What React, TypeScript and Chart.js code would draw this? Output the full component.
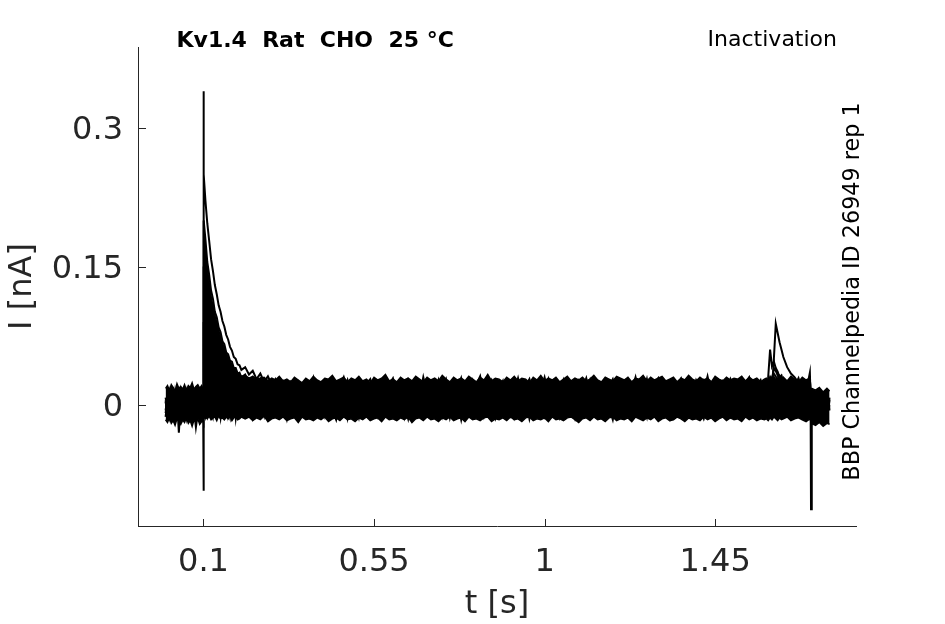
import React, { useEffect, useRef } from "react";
import { Chart, registerables } from "chart.js";

Chart.register(...registerables);

// Sample times of the sweep (ms)
const timeMs = [
  0, 5, 10, 15, 20, 25, 30, 35, 40, 45, 50, 55, 60, 65, 70, 75, 80, 85, 90, 95,
  99, 100, 101,
  105, 110, 115, 120, 125, 130, 135, 140, 145, 150, 155, 160, 165, 170, 175, 180, 185, 190, 195, 200,
  210, 220, 230, 240, 250, 260, 270, 280, 290, 300, 310, 320, 330, 340, 350, 360, 370, 380, 390, 400,
  410, 420, 430, 440, 450, 460, 470, 480, 490, 500, 510, 520, 530, 540, 550, 560, 570, 580, 590, 600,
  610, 620, 630, 640, 650, 660, 670, 680, 690, 700, 710, 720, 730, 740, 750, 760, 770, 780, 790, 800,
  810, 820, 830, 840, 850, 860, 870, 880, 890, 900, 910, 920, 930, 940, 950, 960, 970, 980, 990, 1000,
  1010, 1020, 1030, 1040, 1050, 1060, 1070, 1080, 1090, 1100, 1110, 1120, 1130, 1140, 1150, 1160, 1170, 1180, 1190, 1200,
  1210, 1220, 1230, 1240, 1250, 1260, 1270, 1280, 1290, 1300, 1310, 1320, 1330, 1340, 1350, 1360, 1370, 1380, 1390, 1400,
  1410, 1420, 1430, 1440, 1450, 1460, 1470, 1480, 1490, 1500, 1510, 1520, 1530, 1540, 1550, 1560, 1570, 1580,
  1585, 1590, 1595, 1600, 1605, 1610, 1615, 1620, 1625, 1630, 1640, 1650, 1660, 1670, 1680, 1690, 1700,
  1702, 1703, 1705, 1715, 1725, 1735, 1745, 1752,
];

// Upper and lower edge of the dense noise band of all sweeps (pA)
const bandUpper = [
  18, 21, 16, 22, 19, 15, 23, 18, 20, 17, 22, 16, 21, 19, 24, 17, 20, 22, 18, 21,
  17, 16, 190,
  170, 148, 132, 118, 107, 97, 89, 81, 74, 67, 62, 56, 52, 47, 44, 40, 38, 35, 33, 31,
  32, 29, 31, 28, 29, 30, 26, 29, 27, 31,
  26, 28, 25, 30, 27, 24, 29, 26, 31, 27,
  25, 29, 28, 32, 26, 28, 30, 25, 29, 27,
  31, 26, 28, 24, 30, 27, 29, 33, 26, 28,
  25, 30, 27, 29, 26, 31, 28, 25, 30, 27,
  29, 26, 32, 28, 25, 30, 27, 29, 26, 31,
  28, 25, 30, 27, 33, 26, 29, 28, 25, 30,
  27, 31, 26, 29, 28, 24, 30, 27, 32, 26,
  29, 27, 30, 25, 28, 31, 26, 29, 27, 30,
  26, 28, 32, 27, 25, 30, 28, 26, 31, 29,
  27, 30, 25, 29, 28, 32, 26, 30, 27, 29,
  31, 26, 28, 30, 25, 29, 27, 32, 28, 26,
  30, 27, 29, 25, 31, 28, 26, 30, 27, 29,
  28, 31, 26, 30, 27, 29, 25, 28,
  29, 26, 31, 27, 30, 25, 29, 32, 27, 30, 26, 31, 28, 25, 30, 27, 29,
  22, 16, 18, 16, 19, 14, 18, 15,
];

const bandLower = [
  -16, -19, -14, -20, -17, -22, -15, -18, -21, -16, -19, -14, -20, -17, -23, -16, -19, -15, -21, -18,
  -18, -20, -15,
  -13, -15, -12, -16, -14, -13, -17, -12, -15, -14, -16, -13, -15, -12, -17, -14, -13, -16, -15, -13,
  -15, -13, -17, -14, -16, -12, -18, -15, -14, -16,
  -13, -17, -15, -14, -19, -13, -16, -15, -17, -14,
  -16, -13, -18, -15, -14, -17, -13, -16, -15, -18,
  -14, -16, -13, -17, -15, -14, -18, -13, -16, -15,
  -17, -14, -16, -13, -19, -15, -14, -17, -13, -16,
  -15, -18, -14, -16, -13, -17, -15, -14, -18, -13,
  -16, -15, -17, -14, -13, -18, -15, -16, -14, -17,
  -13, -16, -15, -18, -14, -13, -17, -15, -16, -14,
  -18, -13, -16, -15, -17, -14, -13, -16, -19, -15,
  -14, -17, -13, -16, -15, -18, -14, -13, -17, -15,
  -16, -14, -18, -13, -15, -17, -14, -16, -13, -18,
  -15, -14, -17, -16, -13, -15, -18, -14, -16, -15,
  -17, -13, -16, -14, -18, -15, -13, -17, -14, -16,
  -15, -18, -13, -16, -14, -17, -15, -16,
  -15, -17, -14, -16, -13, -15, -17, -14, -16, -15, -13, -17, -15, -14, -16, -18, -15,
  -17, -19, -20, -22, -19, -23, -20, -21,
];

// Current traces (pA), one per prepulse voltage
const trace1 = [
  3, -8, 12, -4, 7, -13, 5, 10, -6, 2, -11, 8, -3, 13, -9, 4, -2, 11, -7, 6,
  2, 340, 250,
  222, 197, 178, 158, 145, 130, 120, 108, 101, 91, 85, 76, 71, 63, 59, 52, 50, 44, 43, 38,
  41, 33, 37, 28, 34, 25, 31, 22, 28, 19, 26, 18, 25, 17,
  25, 10, 22, 14, 29, 8, 20, 27, 12, 24,
  9, 21, 30, 15, 19, 7, 26, 13, 23, 28,
  11, 18, 25, 8, 22, 29, 14, 20, 10, 27,
  16, 24, 9, 30, 13, 21, 26, 12, 19, 28,
  8, 23, 17, 29, 11, 25, 14, 22, 31, 10,
  20, 27, 13, 18, 26, 9, 24, 15, 29, 12,
  21, 28, 10, 23, 16, 30, 13, 19, 25, 11,
  27, 14, 22, 8, 26, 18, 29, 12, 24, 17,
  10, 25, 20, 28, 13, 22, 9, 27, 16, 30,
  12, 19, 26, 11, 23, 29, 14, 21, 8, 25,
  18, 28, 13, 24, 10, 27, 20, 15, 31, 12,
  22, 26, 9, 19, 28, 14, 25, 11, 23, 30,
  16, 21, 27, 13,
  24, 15, 20, 26, 30, 27, 22, 28, 19, 25, 17, 27, 21, 29, 16, 24, 20,
  12, 5, 2, 9, -6, 8, -3, 6,
];

const trace2 = [
  -6, 9, -2, 14, -10, 4, -5, 11, 1, -12, 7, -4, 10, -8, 3, 12, -6, -1, 9, -3,
  -2, 150, 200,
  180, 155, 141, 124, 115, 101, 95, 84, 79, 69, 66, 57, 55, 48, 47, 40, 40, 34, 35, 30,
  33, 24, 30, 20, 28, 16, 26, 13, 25, 12, 23, 10, 22, 9,
  19, 6, 24, 11, 3, 21, 15, 26, 8, 18,
  23, 4, 16, 27, 10, 20, 2, 17, 25, 12,
  5, 22, 14, 28, 9, 19, 24, 7, 15, 26,
  11, 3, 21, 17, 25, 6, 14, 27, 10, 20,
  24, 8, 16, 2, 22, 13, 26, 5, 18, 12,
  27, 9, 20, 15, 4, 23, 11, 25, 7, 17,
  14, 26, 3, 21, 10, 18, 28, 6, 16, 22,
  8, 19, 25, 12, 2, 20, 15, 27, 9, 23,
  17, 5, 24, 11, 26, 14, 7, 21, 18, 3,
  22, 13, 28, 8, 16, 25, 10, 19, 4, 24,
  15, 27, 6, 20, 12, 23, 9, 26, 17, 2,
  21, 11, 25, 14, 7, 22, 18, 28, 5, 16,
  24, 10, 19, 13,
  18, 9, 22, 30, 34, 31, 26, 20, 27, 15, 24, 12, 22, 17, 26, 11, 19,
  8, -3, 4, -8, 7, -5, 10, -2,
];

const trace3 = [
  8, -4, -13, 6, 12, -7, 1, -10, 13, -2, 5, -14, 9, 0, -8, 7, 14, -5, 3, -11,
  4, 60, 150,
  135, 116, 105, 91, 85, 74, 70, 61, 58, 50, 49, 42, 41, 35, 35, 29, 30, 25, 26, 21,
  25, 11, 23, 9, 21, 6, 20, 4, 19, 3, 18, 2, 17, 1,
  14, -1, 18, 5, 20, -3, 10, 16, 1, 12,
  -2, 17, 7, 21, 3, 13, -4, 19, 9, 0,
  15, 6, 22, -1, 11, 18, 2, 14, -3, 20,
  8, 16, 4, 19, -2, 12, 21, 5, 10, -4,
  17, 3, 13, 20, 0, 9, 18, -1, 15, 6,
  11, 22, 2, 16, -3, 14, 7, 19, 1, 12,
  20, -2, 10, 17, 4, 21, 8, -4, 15, 3,
  13, 19, 0, 11, 22, 6, 16, -1, 9, 18,
  2, 14, 20, 5, -3, 12, 17, 1, 21, 7,
  -2, 15, 10, 19, 4, 13, -4, 18, 8, 22,
  3, 11, 16, 0, 20, 6, 14, -3, 17, 9,
  1, 21, 12, 5, 18, -2, 10, 15, 4, 19,
  7, 13, -1, 16,
  10, 3, 14, 28, 40, 37, 32, 27, 30, 21, 25, 16, 23, 12, 20, 14, 35,
  6, 1, -6, 5, -10, 3, -7, 8,
];

const trace4 = [
  -9, 5, 11, -3, -12, 8, -6, 13, 2, -8, 10, -1, -13, 6, 11, -5, -24, -9, 12, -2,
  -4, 30, 90,
  80, 68, 63, 52, 50, 42, 41, 34, 34, 27, 28, 22, 24, 18, 20, 15, 18, 12, 15, 10,
  15, 1, 14, -2, 13, -3, 12, -4, 11, -5, 10, -4, 9, -6,
  10, -6, 13, 0, 15, -4, 7, -8, 12, 3,
  -5, 14, 6, -7, 11, -1, 16, 2, -6, 9,
  13, -3, 8, 15, -8, 5, 12, -2, 10, -5,
  4, 14, -7, 11, 1, 16, -4, 8, -1, 13,
  -6, 10, 3, 15, -3, 7, 12, -8, 9, 2,
  14, -5, 11, 0, 16, -2, 6, 13, -7, 10,
  1, 15, -4, 8, 12, -6, 5, 14, -1, 9,
  -8, 11, 3, 16, -3, 7, 13, -5, 10, 2,
  15, -2, 9, -7, 12, 4, 14, -4, 6, 11,
  -1, 13, -6, 8, 16, 0, 10, -3, 12, 5,
  -7, 14, 2, 9, -4, 15, 6, -1, 11, -5,
  13, 3, 10, -6, 16, 1, 8, -2, 14, 4,
  -3, 12, 7, -5,
  8, 30, 60, 42, 47, 40, 36, 30, 32, 24, 26, 18, 21, 13, 19, 9, 15,
  2, -5, 3, -12, 6, -8, 4, -4,
];

const trace5 = [
  5, -11, 2, 9, -7, 13, -4, -15, 7, 0, -9, 12, -3, 6, -12, 10, -6, 3, -10, 8,
  1, -93, -5,
  -12, 4, -8, 7, -10, 2, -6, 9, -11, 3, -7, 10, -4, -13, 6, -2, 8, -9, 1, -5,
  7, -8, 11, -4, 2, -12, 9, -1, -10, 5,
  -6, 12, -3, 8, -13, 4, -7, 10, 0, -11,
  6, -5, 13, -9, 3, -2, 11, -14, 7, -6,
  9, -10, 1, 12, -4, 5, -12, 8, -1, 10,
  -8, 3, -13, 11, -5, 7, -3, 13, -9, 2,
  -11, 9, -2, 6, -14, 4, 10, -7, 1, -10,
  12, -4, 8, -12, 5, -1, 11, -9, 3, -6,
  10, -13, 2, 7, -5, 13, -8, 0, -11, 6,
  -3, 9, -10, 4, 12, -6, 1, -14, 8, -2,
  11, -7, 5, -12, 3, 10, -4, 7, -9, 13,
  -1, -11, 6, 9, -6, 2, -13, 12, -3, 8,
  -10, 4, 11, -5, 0, -12, 7, -8, 10, -2,
  5, -13, 9, -4, 13, -7, 3, -10, 6, 1,
  -9, 11, -3, 8, -11, 4, -6, 10,
  -3, 6, 4, 12, 50, 88, 78, 68, 60, 52, 41, 34, 30, 24, 27, 19, 22,
  5, -2, 6, -9, 4, -12, 9, -6,
];

const trace6 = [
  -13, 4, -6, 10, -1, -9, 7, -30, 3, 11, -5, -14, 8, -2, 12, -8, 5, -11, 0, 9,
  -3, -8, 3,
  5, -9, 10, -3, -12, 6, -7, 1, -13, 8, -4, 11, -10, 2, -6, 7, -14, 4, -1, -11,
  -9, 5, -14, 2, -6, 8, -12, -1, 6, -10,
  3, -15, 7, -4, -11, 9, -2, -13, 4, -8,
  1, -12, 10, -6, -16, 5, -3, 8, -11, 0,
  -14, 6, -7, 9, -2, -13, 3, -9, 7, -5,
  -12, 4, -1, -15, 8, -8, 2, -11, 10, -4,
  -7, 6, -13, 0, 9, -10, 3, -16, 5, -2,
  -9, 8, -5, -12, 4, -1, -14, 7, -6, 1,
  -11, 10, -3, -8, 5, -15, 2, -4, 9, -12,
  0, -7, 6, -13, 3, -10, 8, -2, -14, 4,
  -5, 11, -9, 1, -12, 7, -3, -16, 5, -1,
  -8, 9, -11, 2, -6, -13, 6, -4, 10, -10,
  3, -7, -15, 8, -2, 5, -12, 0, -9, 7,
  -4, -14, 4, -1, 9, -11, 2, -8, -13, 6,
  -3, 10, -10, 1, -6, 5, -12, 3,
  -7, 4, -2, 10, 18, 24, 16, 21, 12, 18, 8, 15, 5, 12, 2, 10, 4,
  -8, -113, -4, 7, -11, 2, -14, 5,
];

const traces = [trace1, trace2, trace3, trace4, trace5, trace6];

const xTicks = [0.1, 0.55, 1, 1.45];
const xTickLabels = ["0.1", "0.55", "1", "1.45"];
const yTicks = [0, 0.15, 0.3];
const yTickLabels = ["0", "0.15", "0.3"];

const xAxisTitle = "t [s]";
const yAxisTitle = "I [nA]";
const titleText = "Kv1.4  Rat  CHO  25 °C";
const protocolText = "Inactivation";
const sideText = "BBP Channelpedia ID 26949 rep 1";

const FONT = "DejaVu Sans";
const AXIS_COLOR = "#262626";

const annotations = {
  id: "annotations",
  afterDraw(chart: any) {
    const ctx = chart.ctx as CanvasRenderingContext2D;
    const xs = chart.scales.x;
    const ys = chart.scales.y;
    const area = chart.chartArea;
    ctx.save();
    // inward tick marks
    ctx.strokeStyle = AXIS_COLOR;
    ctx.lineWidth = 1;
    ctx.beginPath();
    xTicks.forEach((v) => {
      const px = Math.round(xs.getPixelForValue(v)) + 0.5;
      ctx.moveTo(px, area.bottom);
      ctx.lineTo(px, area.bottom - 7);
    });
    yTicks.forEach((v) => {
      const py = Math.round(ys.getPixelForValue(v)) + 0.5;
      ctx.moveTo(area.left, py);
      ctx.lineTo(area.left + 8, py);
    });
    ctx.stroke();

    ctx.fillStyle = "#000";
    ctx.textBaseline = "alphabetic";
    ctx.font = `bold 22px "${FONT}"`;
    ctx.textAlign = "left";
    ctx.fillText(titleText, area.left + 38.5, area.top - 0.5);

    ctx.font = `22px "${FONT}"`;
    ctx.textAlign = "right";
    ctx.fillText(protocolText, area.right - 19, area.top - 1);

    ctx.font = `22.3px "${FONT}"`;
    ctx.textAlign = "center";
    ctx.translate(area.right + 2.5, (area.top + area.bottom) / 2 + 5);
    ctx.rotate(-Math.PI / 2);
    ctx.fillText(sideText, 0, 0);
    ctx.restore();
  },
};

export default function App() {
  const canvasRef = useRef<HTMLCanvasElement | null>(null);

  useEffect(() => {
    if (!canvasRef.current) return;
    const toPoints = (arr: number[]) =>
      arr.map((v, k) => ({ x: timeMs[k] / 1000, y: v / 1000 }));

    const bandSets = [
      {
        label: "band upper",
        data: toPoints(bandUpper),
        borderColor: "#000",
        backgroundColor: "#000",
        borderWidth: 1.5,
        pointRadius: 0,
        fill: false,
        tension: 0,
      },
      {
        label: "band lower",
        data: toPoints(bandLower),
        borderColor: "#000",
        backgroundColor: "#000",
        borderWidth: 1.5,
        pointRadius: 0,
        fill: "-1",
        tension: 0,
      },
    ];

    const traceSets = traces.map((tr, i) => ({
      label: `sweep ${i + 1}`,
      data: toPoints(tr),
      borderColor: "#000",
      backgroundColor: "#000",
      borderWidth: 2,
      pointRadius: 0,
      fill: false,
      tension: 0,
    }));

    const chart = new Chart(canvasRef.current, {
      type: "line",
      data: { datasets: [...bandSets, ...traceSets] },
      plugins: [annotations],
      options: {
        animation: false,
        responsive: false,
        maintainAspectRatio: false,
        layout: { padding: { top: 47, right: 89, left: 0, bottom: 0 } },
        plugins: {
          legend: { display: false },
          tooltip: { enabled: false },
          title: { display: false },
        },
        scales: {
          x: {
            type: "linear",
            position: "bottom",
            min: -0.0728,
            max: 1.8217,
            grid: { display: false, drawTicks: false },
            border: { display: true, color: AXIS_COLOR, width: 1 },
            ticks: {
              autoSkip: false,
              maxRotation: 0,
              padding: 17,
              color: AXIS_COLOR,
              font: { family: FONT, size: 32 },
              callback: (_v: any, i: number) => xTickLabels[i],
            },
            afterBuildTicks: (s: any) => {
              s.ticks = xTicks.map((v) => ({ value: v }));
            },
            afterFit: (s: any) => {
              s.height = 98;
            },
            title: {
              display: true,
              text: xAxisTitle,
              color: AXIS_COLOR,
              font: { family: FONT, size: 32 },
              padding: { top: 0, bottom: 0 },
            },
          },
          y: {
            type: "linear",
            position: "left",
            min: -0.1312,
            max: 0.388,
            grid: { display: false, drawTicks: false },
            border: { display: true, color: AXIS_COLOR, width: 1 },
            ticks: {
              autoSkip: false,
              padding: 15,
              labelOffset: 3,
              color: AXIS_COLOR,
              font: { family: FONT, size: 32 },
              callback: (_v: any, i: number) => yTickLabels[i],
            },
            afterBuildTicks: (s: any) => {
              s.ticks = yTicks.map((v) => ({ value: v }));
            },
            afterFit: (s: any) => {
              s.width = 138;
            },
            title: {
              display: true,
              text: yAxisTitle,
              color: AXIS_COLOR,
              font: { family: FONT, size: 32 },
              padding: { top: 3, bottom: 0 },
            },
          },
        },
      } as any,
    });
    return () => chart.destroy();
  }, []);

  return (
    <div
      style={{
        position: "fixed",
        left: 0,
        top: 0,
        width: 945,
        height: 624,
        background: "#fff",
      }}
    >
      <canvas
        ref={canvasRef}
        width={945}
        height={624}
        style={{ display: "block", width: 945, height: 624 }}
      />
    </div>
  );
}
